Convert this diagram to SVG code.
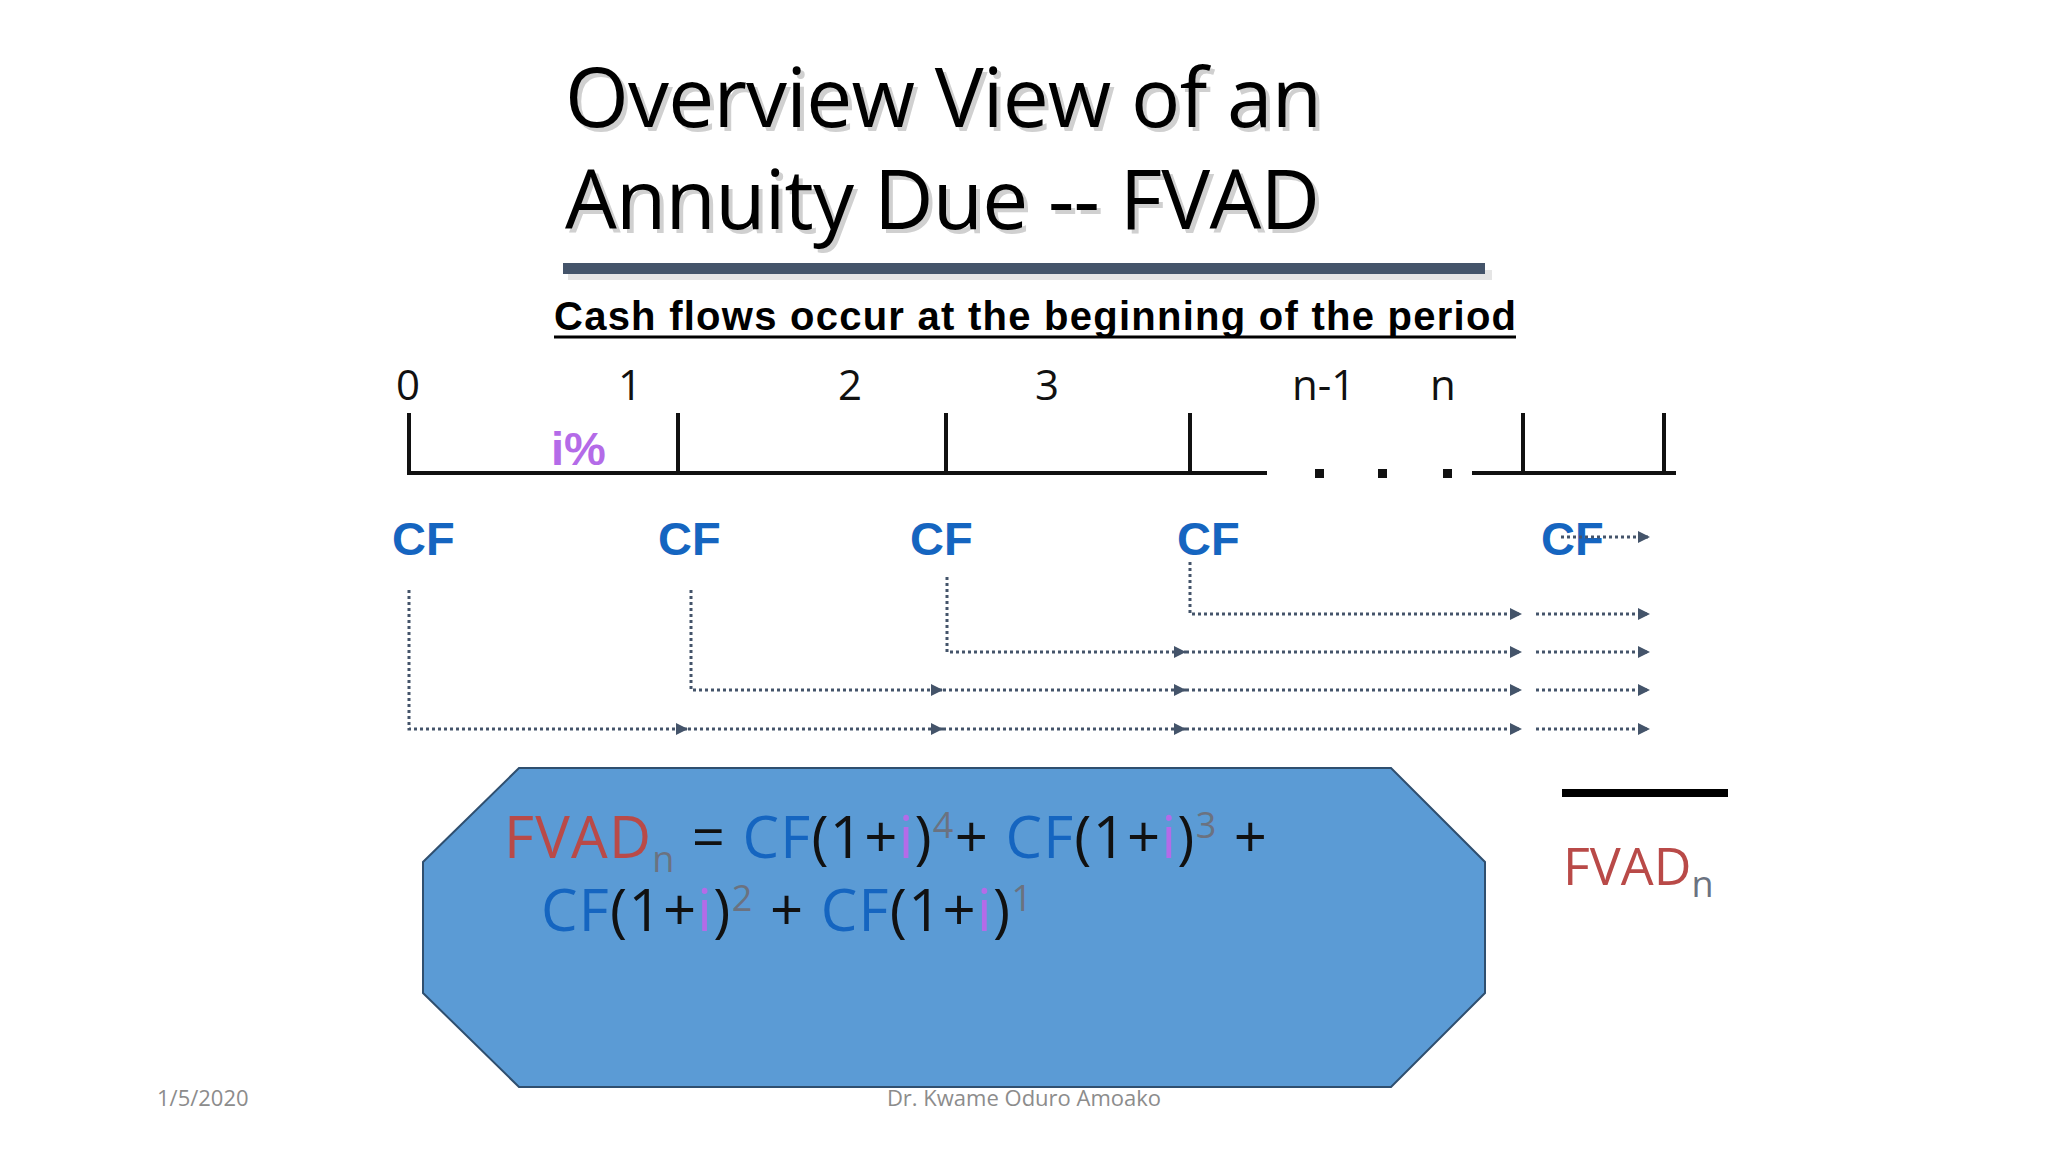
<svg xmlns="http://www.w3.org/2000/svg" width="2048" height="1152" viewBox="0 0 2048 1152">
<defs>
<style>
.t{font-family:"Open Sans","Liberation Sans",sans-serif}
.num{font-family:"Open Sans","Liberation Sans",sans-serif;font-size:42px;fill:#111}
.cf{font-family:"Liberation Sans",Arial,sans-serif;font-weight:bold;font-size:47px;fill:#1565c0}
.dot{fill:none;stroke:#44546a;stroke-width:3;stroke-dasharray:3 3}
.tl{stroke:#111;stroke-width:4;fill:none}
.sup{font-size:36px;fill:#6b7280}
.bl{fill:#1565c0}.pu{fill:#b46be8}.rd{fill:#b94a48}
</style>
<marker id="ah" viewBox="0 0 10 10" refX="10" refY="5" markerWidth="4" markerHeight="4" orient="auto"><path d="M0,0L10,5L0,10z" fill="#44546a"/></marker>
</defs>
<rect width="2048" height="1152" fill="#fff"/>
<g id="title" class="t" font-size="82px">
<text x="569" y="131" fill="#d0d0d0" textLength="757">Overview View of an</text>
<text x="569" y="233" fill="#d0d0d0" textLength="755">Annuity Due -- FVAD</text>
<text x="565" y="127" fill="#000" textLength="757">Overview View of an</text>
<text x="565" y="229" fill="#000" textLength="755">Annuity Due -- FVAD</text>
</g>
<rect x="568" y="270" width="924" height="10" fill="#e5e5e5"/>
<rect x="563" y="263" width="922" height="11" fill="#44546a"/>
<g id="subtitle">
<text x="554" y="330" font-family="Liberation Sans,Arial,sans-serif" font-weight="bold" font-size="40px" textLength="962" fill="#000">Cash flows occur at the beginning of the period</text>
<line x1="554" y1="337" x2="1516" y2="337" stroke="#000" stroke-width="3"/>
</g>
<g id="timeline">
<text class="num" x="396" y="400">0</text>
<text class="num" x="618" y="400">1</text>
<text class="num" x="838" y="400">2</text>
<text class="num" x="1035" y="400">3</text>
<text class="num" x="1292" y="400">n-1</text>
<text class="num" x="1430" y="400" fill="#44546a">n</text>
<path class="tl" d="M409,413V473H1267M1472,473H1676M678,413V473M946,413V473M1190,413V473M1523,413V473M1664,413V473"/>
<rect x="1315" y="469" width="9" height="9" fill="#111"/>
<rect x="1378" y="469" width="9" height="9" fill="#111"/>
<rect x="1443" y="469" width="9" height="9" fill="#111"/>
<text x="551" y="465" font-family="Liberation Sans,Arial,sans-serif" font-weight="bold" font-size="47px" fill="#b46be8">i%</text>
</g>
<g id="cfs">
<text class="cf" x="392" y="555">CF</text>
<text class="cf" x="658" y="555">CF</text>
<text class="cf" x="910" y="555">CF</text>
<text class="cf" x="1177" y="555">CF</text>
<text class="cf" x="1541" y="555">CF</text>
</g>
<g id="connectors">
<path class="dot" d="M409,590V729H688" marker-end="url(#ah)"/>
<path class="dot" d="M688,729H943" marker-end="url(#ah)"/>
<path class="dot" d="M943,729H1186" marker-end="url(#ah)"/>
<path class="dot" d="M1186,729H1522" marker-end="url(#ah)"/>
<path class="dot" d="M1536,729H1650" marker-end="url(#ah)"/>
<path class="dot" d="M691,590V690H943" marker-end="url(#ah)"/>
<path class="dot" d="M943,690H1186" marker-end="url(#ah)"/>
<path class="dot" d="M1186,690H1522" marker-end="url(#ah)"/>
<path class="dot" d="M1536,690H1650" marker-end="url(#ah)"/>
<path class="dot" d="M947,577V652H1186" marker-end="url(#ah)"/>
<path class="dot" d="M1186,652H1522" marker-end="url(#ah)"/>
<path class="dot" d="M1536,652H1650" marker-end="url(#ah)"/>
<path class="dot" d="M1190,562V614H1522" marker-end="url(#ah)"/>
<path class="dot" d="M1536,614H1650" marker-end="url(#ah)"/>
<path class="dot" d="M1561,537H1650" marker-end="url(#ah)"/>
</g>
<g id="formula">
<polygon points="519,768 1391,768 1485,862 1485,993 1391,1087 519,1087 423,993 423,862" fill="#5b9bd5" stroke="#2f4f6f" stroke-width="2"/>
<text class="t" x="504" y="858" font-size="58px" fill="#111" textLength="763"><tspan class="rd">FVAD</tspan><tspan class="sup" dy="14">n</tspan><tspan dy="-14"> = </tspan><tspan class="bl">CF</tspan>(1+<tspan class="pu">i</tspan>)<tspan class="sup" dy="-20">4</tspan><tspan dy="20">+ </tspan><tspan class="bl">CF</tspan>(1+<tspan class="pu">i</tspan>)<tspan class="sup" dy="-20">3</tspan><tspan dy="20"> +</tspan></text>
<text class="t" x="541" y="931" font-size="58px" fill="#111" textLength="491"><tspan class="bl">CF</tspan>(1+<tspan class="pu">i</tspan>)<tspan class="sup" dy="-20">2</tspan><tspan dy="20"> + </tspan><tspan class="bl">CF</tspan>(1+<tspan class="pu">i</tspan>)<tspan class="sup" dy="-20">1</tspan></text>
</g>
<g id="result">
<line x1="1562" y1="793" x2="1728" y2="793" stroke="#000" stroke-width="8"/>
<text class="t" x="1563" y="885" font-size="52px"><tspan class="rd">FVAD</tspan><tspan class="sup" dy="12" font-size="32px">n</tspan></text>
</g>
<g id="footer" class="t" font-size="22px" fill="#8c8c8c">
<text x="157" y="1106">1/5/2020</text>
<text x="1024" y="1106" text-anchor="middle">Dr. Kwame Oduro Amoako</text>
</g>
</svg>
